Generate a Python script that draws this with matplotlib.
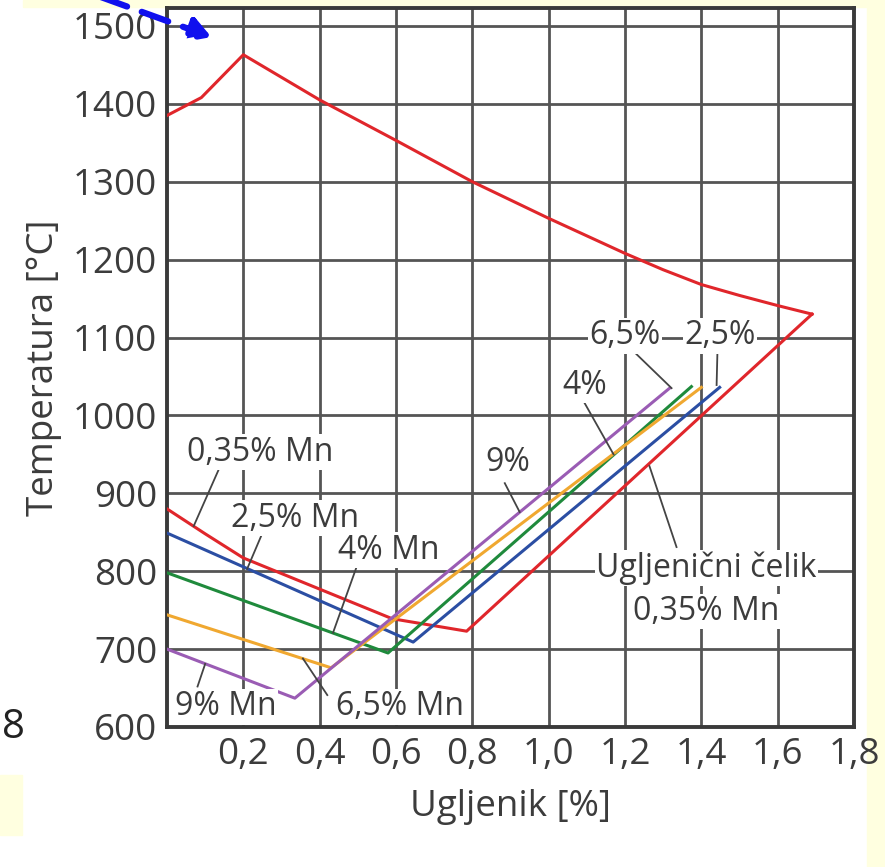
import matplotlib.pyplot as plt
from matplotlib.patches import Rectangle, FancyArrowPatch

# liquidus (red, top)
liq_c = [0.0, 0.09, 0.2, 0.4, 0.6, 0.8, 1.0, 1.2, 1.3, 1.4, 1.5, 1.6, 1.69]
liq_t = [1385, 1408, 1463, 1405, 1353, 1300, 1253, 1208, 1187, 1168, 1154, 1141, 1130]

# ugljenicni celik 0,35% Mn (red)
c_035 = [1.69, 0.785, 0.59, 0.5, 0.4, 0.3, 0.2, 0.1, 0.0]
t_035 = [1130, 723, 739, 757, 777, 797, 817, 848, 880]

# other Mn contents
c_25 = [0.0, 0.645, 1.448]
t_25 = [849, 709, 1036]
c_4 = [0.0, 0.579, 1.374]
t_4 = [798, 695, 1037]
c_65 = [0.0, 0.43, 1.40]
t_65 = [744, 676, 1036]
c_9 = [0.0, 0.335, 1.317]
t_9 = [700, 637, 1035]

x_ticks = [0.2, 0.4, 0.6, 0.8, 1.0, 1.2, 1.4, 1.6, 1.8]
y_ticks = [600, 700, 800, 900, 1000, 1100, 1200, 1300, 1400, 1500]

RED = '#e0262b'
BLUE = '#2b4ea3'
GREEN = '#1f8a3c'
ORANGE = '#f0a830'
PURPLE = '#9a5cb4'
YELLOW = '#ffffe0'
TXT = '#3c3c3c'

plt.rcParams['font.family'] = ['Open Sans', 'DejaVu Sans']

fig = plt.figure(figsize=(8.85, 8.67), dpi=100)
fig.patch.set_facecolor('white')

# yellow page bits around the picture
for rect in [(23 / 885, 1 - 7 / 867, 1, 7 / 867),
             (867 / 885, 0, 18 / 885, 1),
             (0, 1 - 835 / 867, 22 / 885, 60 / 867)]:
    fig.patches.append(Rectangle(rect[:2], rect[2], rect[3], transform=fig.transFigure,
                                 color=YELLOW, zorder=-5))

ax = fig.add_axes([167 / 885, 1 - 727 / 867, 687 / 885, 719 / 867])
ax.set_xlim(0, 1.8)
ax.set_ylim(600, 1523)

lw = 2.2
ax.plot(liq_c, liq_t, color=RED, lw=lw, zorder=3)
ax.plot(c_035, t_035, color=RED, lw=lw, zorder=3)
ax.plot(c_25, t_25, color=BLUE, lw=lw, zorder=3)
ax.plot(c_4, t_4, color=GREEN, lw=lw, zorder=3)
ax.plot(c_65, t_65, color=ORANGE, lw=lw, zorder=3)
ax.plot(c_9, t_9, color=PURPLE, lw=lw, zorder=3)

ax.set_xticks(x_ticks)
ax.set_xticklabels([f'{v:.1f}'.replace('.', ',') for v in x_ticks])
ax.set_yticks(y_ticks)
ax.tick_params(length=0, labelsize=26.5, labelcolor=TXT, pad=7)
ax.grid(True, color='#555555', lw=2, zorder=1)
ax.set_axisbelow(True)
for s in ax.spines.values():
    s.set_color('#3a3a3a')
    s.set_linewidth(2.8)

ax.set_xlabel('Ugljenik [%]', fontsize=26.5, color=TXT, labelpad=12)
ax.set_ylabel('Temperatura [°C]', fontsize=26.5, color=TXT, labelpad=8)

# labels with leader lines: text, text position, leader start, leader end
labels = [
    ('0,35% Mn', (0.245, 953), (0.135, 930), (0.07, 858)),
    ('2,5% Mn', (0.335, 868), (0.25, 849), (0.21, 803)),
    ('4% Mn', (0.58, 827), (0.5, 810), (0.435, 721)),
    ('9% Mn', (0.155, 626), (0.08, 652), (0.1, 681)),
    ('6,5% Mn', (0.61, 626), (0.42, 641), (0.356, 688)),
    ('9%', (0.893, 940), (0.885, 913), (0.924, 876)),
    ('4%', (1.094, 1039), (1.094, 1016), (1.17, 950)),
    ('6,5%', (1.20, 1102), (1.225, 1081), (1.322, 1035)),
    ('2,5%', (1.448, 1102), (1.442, 1078), (1.44, 1039)),
    ('Ugljenični čelik', (1.414, 804), (1.335, 831), (1.264, 935)),
]
for txt, (tx, ty), p0, p1 in labels:
    ax.plot([p0[0], p1[0]], [p0[1], p1[1]], color='#444444', lw=1.3, zorder=4)
    ax.text(tx, ty, txt, fontsize=23, color=TXT, ha='center', va='center', zorder=5,
            bbox=dict(facecolor='white', edgecolor='none', pad=1.0))
ax.text(1.414, 748, '0,35% Mn', fontsize=23, color=TXT, ha='center', va='center', zorder=5,
        bbox=dict(facecolor='white', edgecolor='none', pad=1.0))

# stray page number and blue pointer
fig.text(2 / 885, 1 - 728 / 867, '8', fontsize=29, color='#222222', va='center')
fig.patches.append(FancyArrowPatch(
    (98 / 885, 1 + 4 / 867), (214 / 885, 1 - 38 / 867), transform=fig.transFigure,
    arrowstyle='-|>,head_length=12,head_width=7', color='#1010ee', lw=4.5,
    linestyle=(0, (4.5, 2.5)), zorder=10))

fig.savefig('out.png', dpi=100)
